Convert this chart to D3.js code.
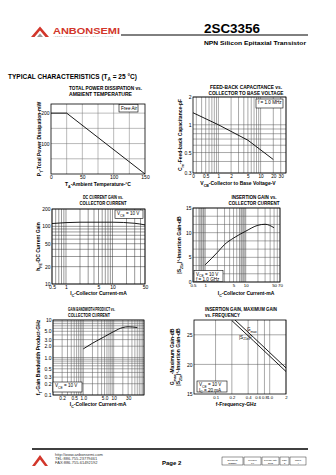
<!DOCTYPE html>
<html><head><meta charset="utf-8">
<script src="https://cdn.jsdelivr.net/npm/d3@7"></script>
<style>
body{margin:0;background:#fff}
svg{display:block}
text{font-family:"Liberation Sans",Arial,sans-serif}
</style>
</head><body>
<svg id="c" width="336" height="475"></svg>
<script>
// ---------- data ----------
const pdTemp  = [0, 25, 150];
const pdPower = [200, 200, 0];

const creVcb = [0.25, 1, 5, 20];
const creVal = [1.35, 1.0, 0.68, 0.42];

const hfeIc  = [0.5, 2, 10, 30, 50];
const hfeVal = [112, 118, 118, 113, 106];

const s21Ic  = [1, 2, 3, 5, 10, 20, 30, 50];
const s21Val = [3.5, 6.0, 7.6, 8.9, 10.3, 11.5, 11.7, 11.0];

const ftIc  = [1, 2, 5, 10, 20, 30, 60];
const ftVal = [1.7, 2.4, 3.6, 4.9, 6.3, 6.6, 6.3];

const freqGHz = [0.2, 0.5, 1.0, 2.0];
const gmaxVal = [28.0, 24.6, 22.0, 19.4];
const s21fVal = [27.4, 24.0, 21.4, 18.8];

const pdXTicks = [0, 50, 100, 150];
const pdYTicks = [100, 200];
const creXTicks = [0.25, 0.5, 1, 2, 5, 10, 20, 30];
const creXLabels = ["0", "0.5", "1", "2", "5", "10", "20", "30"];
const creYTicks = [0.3, 0.5, 1, 2];
const hfeXTicks = [0.5, 1, 5, 10, 50];
const hfeYTicks = [10, 20, 50, 100, 200];
const s21XTicks = [0.5, 1, 5, 10, 50, 70];
const s21YTicks = [0, 5, 10, 15];
const ftXTicks = [0.2, 0.5, 1, 5, 10, 30];
const ftXLabels = ["0.2", "0.5", "1.0", "5.0", "10", "30"];
const ftYTicks = [0.1, 0.2, 0.3, 0.5, 1, 2, 3, 5, 10];
const ftYLabels = ["0.1", "0.2", "0.3", "0.5", "1.0", "2.0", "3.0", "5.0", "10"];
const fXTicks = [0.1, 0.2, 0.4, 0.6, 0.8, 1.0, 2];
const fXLabels = ["0.1", "0.2", "0.4", "0.6", "0.8", "1.0", "2"];
const fYTicks = [15, 20, 25];

// ---------- helpers ----------
const svg = d3.select("#c");
const FONT = '"Liberation Sans",Arial,sans-serif';

function logGrid(lo, hi) {
  const out = [];
  for (let k = -3; k <= 3; k++) for (let m = 1; m <= 9; m++) {
    const v = m * Math.pow(10, k);
    if (v >= lo * 0.999 && v <= hi * 1.001) out.push(v);
  }
  return out;
}

function rich(t, str, fs) {
  const re = /\{([^}]*)\}/g; let last = 0, m; const parts = [];
  while ((m = re.exec(str))) {
    if (m.index > last) parts.push([str.slice(last, m.index), false]);
    parts.push([m[1], true]); last = re.lastIndex;
  }
  if (last < str.length) parts.push([str.slice(last), false]);
  let cur = 0;
  parts.forEach(([s, sub]) => {
    const want = sub ? fs * 0.3 : 0;
    t.append("tspan").attr("dy", want - cur).attr("font-size", sub ? fs * 0.72 : fs).text(s);
    cur = want;
  });
}

function chart(c) {
  const g = svg.append("g");
  const x = (c.xLog ? d3.scaleLog() : d3.scaleLinear()).domain(c.xDomain).range([c.L, c.R]);
  const y = (c.yLog ? d3.scaleLog() : d3.scaleLinear()).domain(c.yDomain).range([c.B, c.T]);
  const clipId = "clip" + Math.round(c.L) + "_" + Math.round(c.T);
  g.append("clipPath").attr("id", clipId).append("rect")
    .attr("x", c.L).attr("y", c.T).attr("width", c.R - c.L).attr("height", c.B - c.T);

  (c.bands || []).forEach(b => g.append("rect")
    .attr("x", x(b[0])).attr("width", x(b[1]) - x(b[0]))
    .attr("y", c.T).attr("height", c.B - c.T).attr("fill", "#cfcfcf"));

  const gc = c.gridColor || "#555";
  g.append("g").selectAll("line").data(c.xGrid).join("line")
    .attr("x1", d => x(d)).attr("x2", d => x(d)).attr("y1", c.T).attr("y2", c.B)
    .attr("stroke", gc).attr("stroke-width", 0.5);
  g.append("g").selectAll("line").data(c.yGrid).join("line")
    .attr("y1", d => y(d)).attr("y2", d => y(d)).attr("x1", c.L).attr("x2", c.R)
    .attr("stroke", gc).attr("stroke-width", 0.5);

  g.append("rect").attr("x", c.L).attr("y", c.T).attr("width", c.R - c.L).attr("height", c.B - c.T)
    .attr("fill", "none").attr("stroke", "#000").attr("stroke-width", 0.8);

  const tf = c.tickFont || 5;
  const ax = g.append("g").attr("transform", `translate(0,${c.B})`)
    .call(d3.axisBottom(x).tickValues(c.xTicks).tickSize(0).tickPadding(1.8)
      .tickFormat((d, i) => c.xLabels ? c.xLabels[i] : String(d)));
  ax.attr("font-size", tf).attr("font-family", FONT);
  ax.select(".domain").remove();
  const ay = g.append("g").attr("transform", `translate(${c.L},0)`)
    .call(d3.axisLeft(y).tickValues(c.yTicks).tickSize(0).tickPadding(1.5)
      .tickFormat((d, i) => c.yLabels ? c.yLabels[i] : String(d)));
  ay.attr("font-size", 5).attr("font-family", FONT);
  ay.select(".domain").remove();

  c.series.forEach(s => {
    g.append("path").attr("clip-path", `url(#${clipId})`)
      .datum(d3.zip(s.x, s.y))
      .attr("d", d3.line().x(d => x(d[0])).y(d => y(d[1])).curve(s.curve || d3.curveLinear))
      .attr("fill", "none").attr("stroke", "#000").attr("stroke-width", s.w || 0.9);
  });

  // title
  c.title.forEach((t, i) => g.append("text").attr("x", c.titleX).attr("y", c.titleY + i * 6)
    .attr("text-anchor", c.titleAnchor || "start").attr("font-size", 5.2).attr("font-weight", "bold")
    .attr("textLength", c.titleLen ? c.titleLen[i] : null).attr("lengthAdjust", "spacingAndGlyphs")
    .text(t));

  // x label
  const xl = g.append("text").attr("x", (c.xLabelX || (c.L + c.R) / 2)).attr("y", c.xLabelY)
    .attr("text-anchor", "middle").attr("font-size", 5).attr("font-weight", "bold");
  rich(xl, c.xLabel, 5);

  // y label(s)
  c.yLabel.forEach((lab, i) => {
    const yx = c.yLabelX + i * 6;
    const yl = g.append("text").attr("transform", `translate(${yx},${(c.T + c.B) / 2}) rotate(-90)`)
      .attr("text-anchor", "middle").attr("font-size", 5).attr("font-weight", "bold");
    rich(yl, lab, 5);
  });

  // legend box
  if (c.legend) {
    const L = c.legend;
    g.append("rect").attr("x", L.x).attr("y", L.y).attr("width", L.w).attr("height", L.h)
      .attr("fill", "#fff").attr("stroke", "#000").attr("stroke-width", 0.6);
    L.lines.forEach((ln, i) => {
      const t = g.append("text").attr("x", L.x + 2).attr("y", L.y + 5.2 + i * 5.5).attr("font-size", 4.6);
      rich(t, ln, 4.6);
    });
  }
  (c.notes || []).forEach(n => {
    const t = g.append("text").attr("x", x(n.x)).attr("y", y(n.y)).attr("font-size", 4.6);
    rich(t, n.t, 4.6);
  });
  return {x, y};
}

// ---------- header ----------
const red = "#d2362b";
svg.append("path").attr("d", "M31,37 L40,26.5 L49,37 L45.5,37 L40,30.5 L34.5,37 Z").attr("fill", red);
svg.append("path").attr("d", "M37,37 L40,33.5 L43,37 Z").attr("fill", "#999");
svg.append("text").attr("x", 53).attr("y", 33.5).attr("font-size", 8.5).attr("font-weight", "bold")
  .attr("fill", red).attr("textLength", 67).attr("lengthAdjust", "spacingAndGlyphs").text("ANBONSEMI");
svg.append("text").attr("x", 53).attr("y", 37.3).attr("font-size", 1.8).attr("fill", "#999")
  .attr("textLength", 60).text("ANBON SEMICONDUCTOR (INT'L) LIMITED");
svg.append("line").attr("x1", 121).attr("x2", 308).attr("y1", 35).attr("y2", 35).attr("stroke", "#000").attr("stroke-width", 1);
svg.append("text").attr("x", 204).attr("y", 33).attr("font-size", 13).attr("font-weight", "bold")
  .attr("textLength", 56).attr("lengthAdjust", "spacingAndGlyphs").text("2SC3356");
svg.append("text").attr("x", 204).attr("y", 44.5).attr("font-size", 6).attr("font-weight", "bold")
  .attr("textLength", 102).attr("lengthAdjust", "spacingAndGlyphs").text("NPN Silicon Epitaxial Transistor");

const tc = svg.append("text").attr("x", 8).attr("y", 79).attr("font-size", 6.5).attr("font-weight", "bold");
rich(tc, "TYPICAL  CHARACTERISTICS (T{A} = 25 °C)", 6.5);

// ---------- charts ----------
chart({
  L: 51, R: 145, T: 104, B: 174,
  xDomain: [0, 150], yDomain: [0, 230],
  xGrid: [25, 50, 75, 100, 125], yGrid: [50, 100, 150, 200],
  xTicks: pdXTicks, yTicks: pdYTicks, gridColor: "#777",
  series: [{x: pdTemp, y: pdPower}],
  title: ["TOTAL POWER DISSIPATION vs.", "AMBIENT TEMPERATURE"], titleX: 69, titleY: 90, titleLen: [73, 63],
  xLabel: "T{A}-Ambient Temperature-°C", xLabelY: 186,
  yLabel: ["P{T}-Total Power Dissipation-mW"], yLabelX: 41,
  legend: {x: 119, y: 104.5, w: 19, h: 7.5, lines: ["Free Air"]}
});

chart({
  L: 193, R: 286, T: 97, B: 173, xLog: true, yLog: true,
  xDomain: [0.25, 40], yDomain: [0.3, 2],
  xGrid: logGrid(0.25, 40), yGrid: logGrid(0.3, 2),
  xTicks: creXTicks, xLabels: creXLabels, yTicks: creYTicks, tickFont: 4.7,
  series: [{x: creVcb, y: creVal}],
  title: ["FEED-BACK CAPACITANCE vs.", "COLLECTOR TO BASE VOLTAGE"], titleX: 246, titleY: 89, titleAnchor: "middle", titleLen: [72, 75],
  xLabel: "V{CB}-Collector to Base Voltage-V", xLabelY: 185, xLabelX: 238,
  yLabel: ["C{re}-Feed-back Capacitance-pF"], yLabelX: 182,
  legend: {x: 256, y: 99, w: 27, h: 9, lines: ["f = 1.0 MHz"]}
});

chart({
  L: 52, R: 145, T: 209, B: 284, xLog: true, yLog: true,
  xDomain: [0.5, 50], yDomain: [10, 200],
  xGrid: logGrid(0.5, 50), yGrid: logGrid(10, 200),
  xTicks: hfeXTicks, yTicks: hfeYTicks, gridColor: "#333",
  series: [{x: hfeIc, y: hfeVal, curve: d3.curveMonotoneX}],
  title: ["DC CURRENT GAIN vs.", "COLLECTOR CURRENT"], titleX: 103, titleY: 199, titleAnchor: "middle", titleLen: [40, 47],
  xLabel: "I{C}-Collector Current-mA", xLabelY: 295,
  yLabel: ["h{FE}-DC Current Gain"], yLabelX: 40,
  legend: {x: 115, y: 210, w: 28, h: 8.5, lines: ["V{CE} = 10 V"]}
});

chart({
  L: 193, R: 280, T: 208, B: 282, xLog: true,
  xDomain: [0.5, 70], yDomain: [0, 15],
  xGrid: logGrid(0.5, 70), yGrid: d3.range(0, 15.01, 5 / 3),
  xTicks: s21XTicks, yTicks: s21YTicks, tickFont: 4.4,
  bands: [[0.7, 1.0], [7, 10]],
  series: [{x: s21Ic, y: s21Val, curve: d3.curveMonotoneX}],
  title: ["INSERTION GAIN vs.", "COLLECTOR CURRENT"], titleX: 254, titleY: 199, titleAnchor: "middle", titleLen: [45, 51],
  xLabel: "I{C}-Collector Current-mA", xLabelY: 295, xLabelX: 246,
  yLabel: ["|S{21e}|²-Insertion Gain-dB"], yLabelX: 181,
  legend: {x: 194, y: 270.5, w: 29, h: 11, lines: ["V{CE} = 10 V", "f = 1.0 GHz"]}
});

chart({
  L: 53, R: 144, T: 320, B: 395, xLog: true, yLog: true,
  xDomain: [0.1, 100], yDomain: [0.1, 10],
  xGrid: logGrid(0.1, 100), yGrid: logGrid(0.1, 10),
  xTicks: ftXTicks, xLabels: ftXLabels, yTicks: ftYTicks, yLabels: ftYLabels, tickFont: 4.7,
  series: [{x: ftIc, y: ftVal, curve: d3.curveMonotoneX}],
  title: ["GAIN BANDWIDTH PRODUCT vs.", "COLLECTOR CURRENT"], titleX: 68, titleY: 311, titleLen: [47, 42],
  xLabel: "I{C}-Collector Current-mA", xLabelY: 406, xLabelX: 98,
  yLabel: ["f{T}-Gain Bandwidth Product-GHz"], yLabelX: 40,
  legend: {x: 53, y: 382, w: 29, h: 10, lines: ["V{CE} = 10 V"]}
});

chart({
  L: 194, R: 286, T: 320, B: 394, xLog: true,
  xDomain: [0.04, 2], yDomain: [15, 27.5],
  xGrid: fXTicks, yGrid: [20, 25],
  xTicks: fXTicks, xLabels: fXLabels, yTicks: fYTicks, tickFont: 4.2,
  series: [{x: freqGHz, y: gmaxVal}, {x: freqGHz, y: s21fVal}],
  title: ["INSERTION GAIN, MAXIMUM GAIN", "vs. FREQUENCY"], titleX: 205, titleY: 311, titleLen: [72, 35],
  xLabel: "f-Frequency-GHz", xLabelY: 406, xLabelX: 236,
  yLabel: ["G{max}-Maximum Gain-dB", "|S{21e}|²-Insertion Gain-dB"], yLabelX: 174,
  legend: {x: 197, y: 381, w: 30, h: 11, lines: ["V{CE} = 10 V", "I{C} = 20 mA"]},
  notes: [{x: 0.38, y: 25.6, t: "G{max}"}, {x: 0.27, y: 24.3, t: "|S{21e}|²"}]
});

// ---------- footer ----------
svg.append("line").attr("x1", 32).attr("x2", 308).attr("y1", 449).attr("y2", 449).attr("stroke", "#000").attr("stroke-width", 1.5);
svg.append("path").attr("d", "M32,466 L40,455 L48,466 L45,466 L40,459.5 L35,466 Z").attr("fill", red);
["http://www.anbonsemi.com", "TEL:886-755-23779461", "FAX:886-755-61492192"].forEach((s, i) =>
  svg.append("text").attr("x", 55).attr("y", 455.5 + i * 4.3).attr("font-size", 4).attr("fill", "#333").text(s));
svg.append("text").attr("x", 162).attr("y", 465).attr("font-size", 6).attr("font-weight", "bold").text("Page 2");
const cells = [[222, 243, "Document", "DS3356"], [244, 261, "Revision", "1.0"], [262, 279, "Release date", "2013"], [280, 289, "Page", "2"], [290, 306, "Pages", "4"]];
cells.forEach(cl => {
  svg.append("rect").attr("x", cl[0]).attr("y", 457).attr("width", cl[1] - cl[0]).attr("height", 8)
    .attr("fill", "none").attr("stroke", "#000").attr("stroke-width", 0.4);
  svg.append("text").attr("x", (cl[0] + cl[1]) / 2).attr("y", 460.5).attr("text-anchor", "middle").attr("font-size", 2.2).text(cl[2]);
  svg.append("text").attr("x", (cl[0] + cl[1]) / 2).attr("y", 463.8).attr("text-anchor", "middle").attr("font-size", 2.2).text(cl[3]);
});
</script>
</body></html>
